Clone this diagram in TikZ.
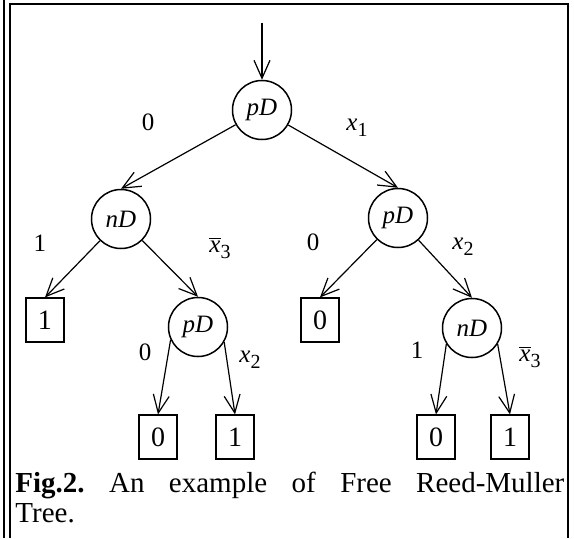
\documentclass[tikz,border=0pt]{standalone}
\usepackage{fontspec}
\setmainfont{Liberation Serif}
\usetikzlibrary{shapes.geometric, arrows.meta, calc}
\newcommand{\xsub}[1]{\textit{x}\raisebox{-3pt}{\fontsize{10}{10}\selectfont #1}}
\newcommand{\xbarsub}[1]{$\overline{\mbox{\textit{x}}}$\raisebox{-3pt}{\fontsize{10}{10}\selectfont #1}}

\begin{document}
\begin{tikzpicture}[node distance=54pt]
%
% Sketch:
%              pD
%          0 /    \ x1
%          nD      pD
%       1 /  \ ~x3  0 /  \ x2
%       [1]   pD    [0]   nD
%           0 / \ x2   1 / \ ~x3
%           [0] [1]     [0] [1]
%
\tikzstyle{dnode} = [circle, minimum size=29.5pt, inner sep=0pt, draw=black, line width=0.75pt, font=\fontsize{12.5}{12.5}\selectfont\itshape]
\tikzstyle{leaf} = [rectangle, minimum width=19pt, minimum height=22pt, inner sep=0pt, draw=black, line width=0.6pt, font=\fontsize{14}{14}\selectfont]
\tikzstyle{edgelbl} = [inner sep=0pt, font=\fontsize{12.5}{12.5}\selectfont]
\tikzstyle{arrow} = [line width=0.6pt,->,>={Straight Barb[length=9pt,width=8pt]}]
\tikzstyle{frame} = [line width=1pt]
% Frame
\useasboundingbox (0,0) rectangle (287pt,-269pt);
\draw [frame] (2pt,0) -- (2pt,-269pt);
\draw [frame] (5pt,-269pt) -- (5pt,-2pt) -- (284pt,-2pt) -- (284pt,-269pt);
% Nodes
\node (root) [dnode] at (131pt,-55pt) {pD};
\coordinate (entry) at ($(root.north)+(0,28.5pt)$);
\node (nd_l) [dnode, below of=root, xshift=-70.5pt, yshift=-0.5pt] {nD};
\node (pd_r) [dnode, below of=root, xshift=68pt] {pD};
\node (one_l) [leaf, below of=nd_l, xshift=-38pt, yshift=3.5pt] {1};
\node (pd_m) [dnode, below of=nd_l, xshift=38.5pt] {pD};
\node (zero_r) [leaf, below of=pd_r, xshift=-39pt, yshift=3pt] {0};
\node (nd_r) [dnode, below of=pd_r, xshift=37pt, yshift=-1pt] {nD};
\node (zero_ml) [leaf, below of=pd_m, xshift=-20pt, yshift=-1pt] {0};
\node (one_ml) [leaf, below of=pd_m, xshift=18.5pt, yshift=-1pt] {1};
\node (zero_rl) [leaf, below of=nd_r, xshift=-18pt, yshift=-0.5pt] {0};
\node (one_rr) [leaf, below of=nd_r, xshift=19pt, yshift=-0.5pt] {1};
% Edge labels
\node (lbl_a) [edgelbl] at ($(root)+(-57pt,-6pt)$) {0};
\node (lbl_b) [edgelbl] at ($(root)+(47.5pt,-9pt)$) {\xsub{1}};
\node (lbl_c) [edgelbl] at ($(nd_l)+(-40.5pt,-12pt)$) {1};
\node (lbl_d) [edgelbl] at ($(nd_l)+(49.5pt,-14.5pt)$) {\xbarsub{3}};
\node (lbl_e) [edgelbl] at ($(pd_r)+(-42.5pt,-12pt)$) {0};
\node (lbl_f) [edgelbl] at ($(pd_r)+(32.5pt,-14.5pt)$) {\xsub{2}};
\node (lbl_g) [edgelbl] at ($(pd_m)+(-26.5pt,-12.5pt)$) {0};
\node (lbl_h) [edgelbl] at ($(pd_m)+(26pt,-16.5pt)$) {\xsub{2}};
\node (lbl_i) [edgelbl] at ($(nd_r)+(-27.5pt,-11pt)$) {1};
\node (lbl_j) [edgelbl] at ($(nd_r)+(29pt,-14.5pt)$) {\xbarsub{3}};
% Caption
\node (caption) [anchor=base west, text width=274.5pt, align=justify, inner sep=0pt, font=\fontsize{14.5}{15}\selectfont\frenchspacing] at (7.5pt,-246pt) {\textbf{Fig.2.} An example of Free Reed-Muller\linebreak Tree.};
% Arrows
\draw [arrow] (entry) -- (root.north);
\draw [arrow] (root) -- (nd_l.north);
\draw [arrow] (root) -- (pd_r.north);
\draw [arrow] (nd_l) -- (one_l.north);
\draw [arrow] (nd_l) -- (pd_m.north);
\draw [arrow] (pd_r) -- (zero_r.north);
\draw [arrow] (pd_r) -- (nd_r.north);
% bottom level leaves the circles from the sides
\draw [arrow] (pd_m.205) -- (zero_ml.north);
\draw [arrow] (pd_m.330) -- (one_ml.north);
\draw [arrow] (nd_r.212) -- (zero_rl.north);
\draw [arrow] (nd_r.328) -- (one_rr.north);
\end{tikzpicture}
\end{document}
